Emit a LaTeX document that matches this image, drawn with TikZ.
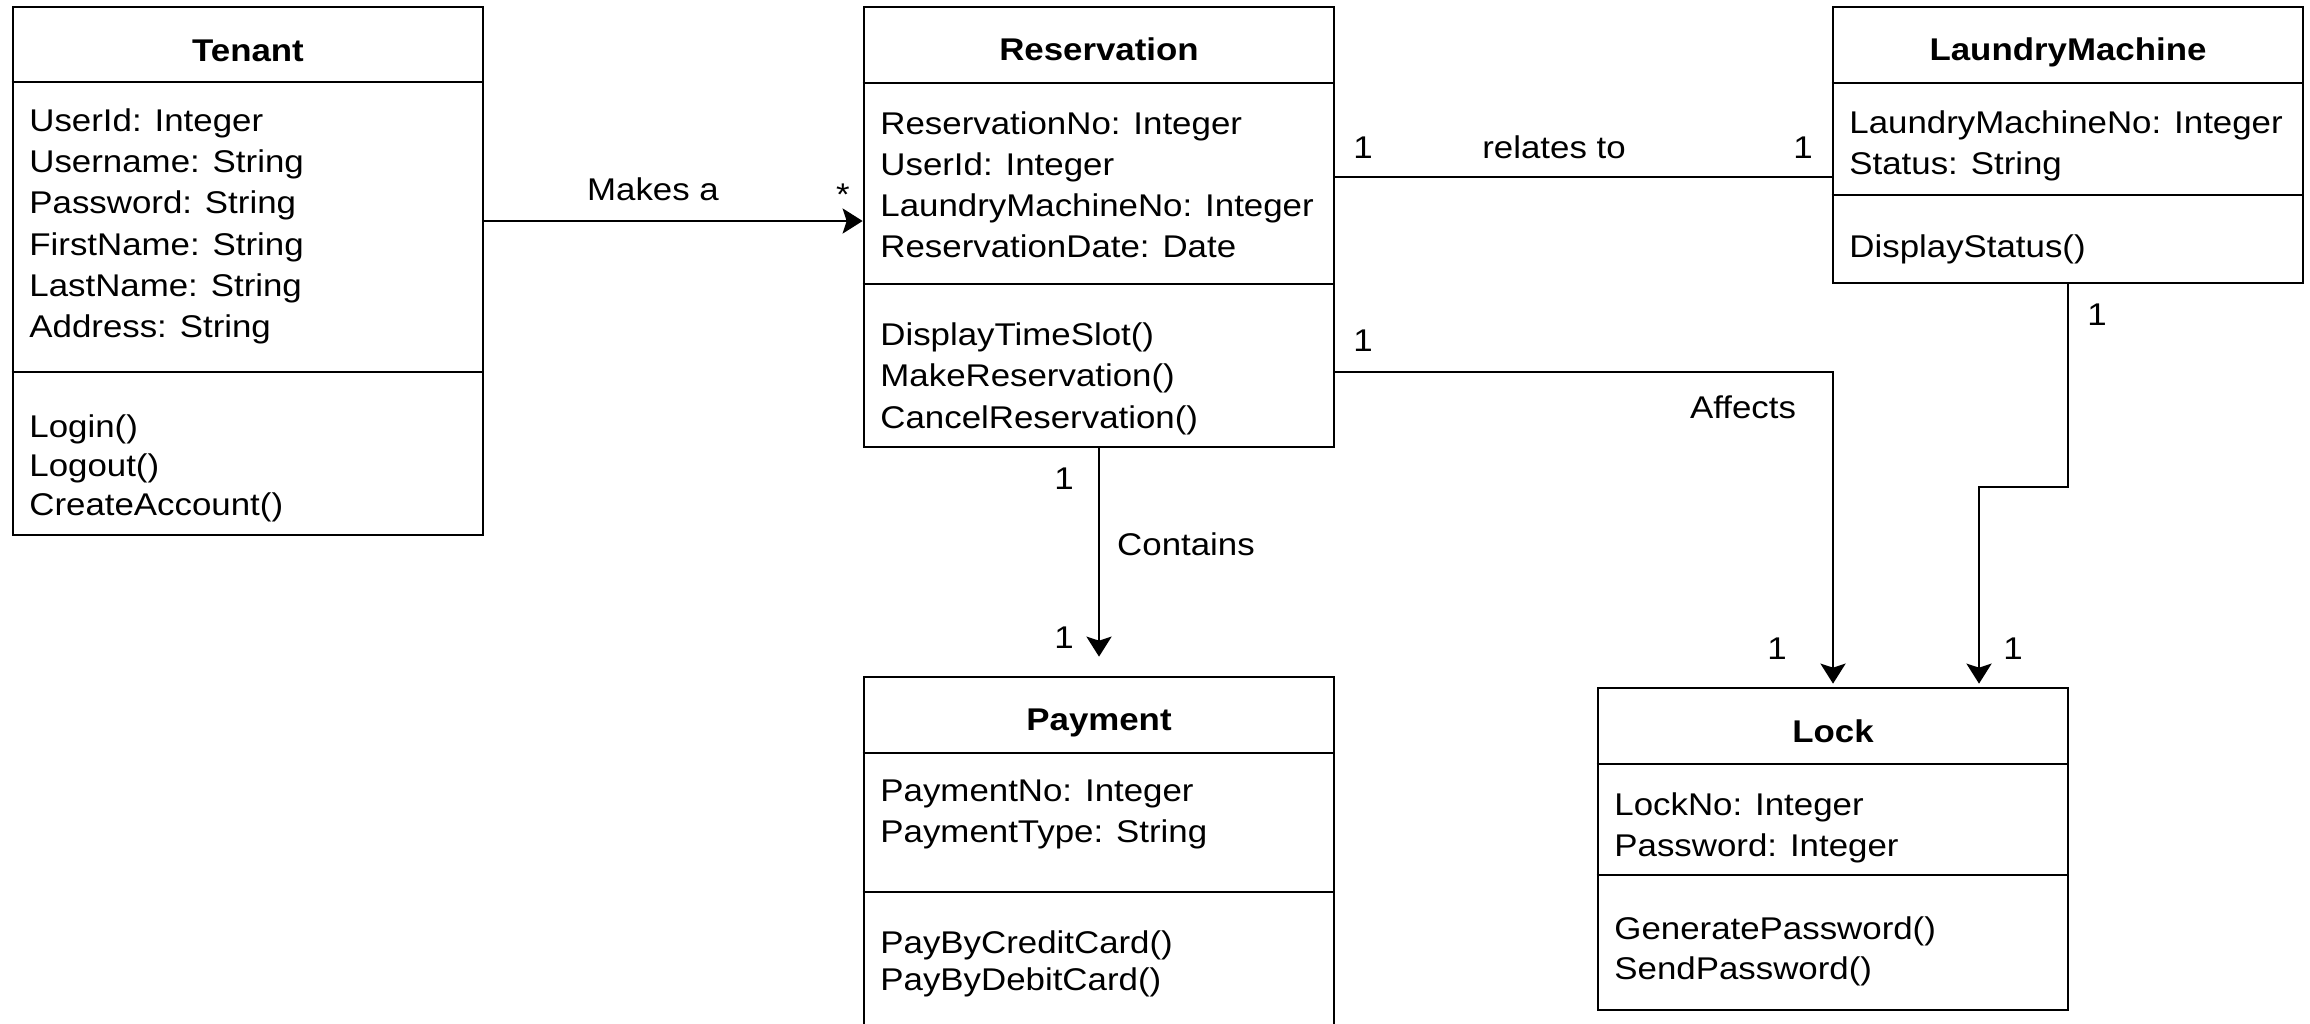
\documentclass[tikz,border=0pt]{standalone}
\usepackage{fontspec}
\setmainfont{Liberation Sans}[FakeStretch=1.11]
\usetikzlibrary{arrows.meta,fit,calc}
\begin{document}
\begin{tikzpicture}[x=0.5pt,y=-0.5pt,
  font=\fontsize{15.7pt}{20pt}\selectfont,
  classbox/.style={draw, line width=1.35pt, inner sep=0pt},
  sep/.style={line width=1.35pt},
  title/.style={anchor=base, inner sep=0pt, font=\fontsize{15.7pt}{20pt}\selectfont\bfseries},
  member/.style={anchor=base west, inner sep=0pt},
  mult/.style={anchor=base, inner sep=0pt},
  assoc/.style={line width=1.3pt},
  navig/.style={assoc, -{Stealth[length=10pt,width=12.5pt,inset=2pt]}},
]
\path[use as bounding box, fill=white] (0,0) rectangle (2310,1023);

% ---------- Tenant ----------
\node[classbox, fit={(13,7)(483,535)}] (tenant) {};
\draw[sep] (tenant.west |- 0,82) -- (tenant.east |- 0,82);
\draw[sep] (tenant.west |- 0,372) -- (tenant.east |- 0,372);
\node[title] (tenantT) at (248,61) {Tenant};
\node[member] (ta1) at (29,131) {UserId: Integer};
\node[member] (ta2) at (29,172) {Username: String};
\node[member] (ta3) at (29,213) {Password: String};
\node[member] (ta4) at (29,255) {FirstName: String};
\node[member] (ta5) at (29,296) {LastName: String};
\node[member] (ta6) at (29,337) {Address: String};
\node[member] (tm1) at (29,437) {Login()};
\node[member] (tm2) at (29,476) {Logout()};
\node[member] (tm3) at (29,515) {CreateAccount()};

% ---------- Reservation ----------
\node[classbox, fit={(864,7)(1334,447)}] (res) {};
\draw[sep] (res.west |- 0,83) -- (res.east |- 0,83);
\draw[sep] (res.west |- 0,284) -- (res.east |- 0,284);
\node[title] (resT) at (1099,60) {Reservation};
\node[member] (ra1) at (880,134) {ReservationNo: Integer};
\node[member] (ra2) at (880,175) {UserId: Integer};
\node[member] (ra3) at (880,216) {LaundryMachineNo: Integer};
\node[member] (ra4) at (880,257) {ReservationDate: Date};
\node[member] (rm1) at (880,345) {DisplayTimeSlot()};
\node[member] (rm2) at (880,386) {MakeReservation()};
\node[member] (rm3) at (880,428) {CancelReservation()};

% ---------- LaundryMachine ----------
\node[classbox, fit={(1833,7)(2303,283)}] (lm) {};
\draw[sep] (lm.west |- 0,83) -- (lm.east |- 0,83);
\draw[sep] (lm.west |- 0,195) -- (lm.east |- 0,195);
\node[title] (lmT) at (2068,60) {LaundryMachine};
\node[member] (la1) at (1849,133) {LaundryMachineNo: Integer};
\node[member] (la2) at (1849,174) {Status: String};
\node[member] (lm1) at (1849,257) {DisplayStatus()};

% ---------- Payment (runs past the lower edge) ----------
\node[classbox, fit={(864,677)(1334,1045)}] (pay) {};
\draw[sep] (pay.west |- 0,753) -- (pay.east |- 0,753);
\draw[sep] (pay.west |- 0,892) -- (pay.east |- 0,892);
\node[title] (payT) at (1099,730) {Payment};
\node[member] (pa1) at (880,801) {PaymentNo: Integer};
\node[member] (pa2) at (880,842) {PaymentType: String};
\node[member] (pm1) at (880,953) {PayByCreditCard()};
\node[member] (pm2) at (880,990) {PayByDebitCard()};

% ---------- Lock ----------
\node[classbox, fit={(1598,688)(2068,1010)}] (lock) {};
\draw[sep] (lock.west |- 0,764) -- (lock.east |- 0,764);
\draw[sep] (lock.west |- 0,875) -- (lock.east |- 0,875);
\node[title] (lockT) at (1833,742) {Lock};
\node[member] (ka1) at (1614,815) {LockNo: Integer};
\node[member] (ka2) at (1614,856) {Password: Integer};
\node[member] (km1) at (1614,939) {GeneratePassword()};
\node[member] (km2) at (1614,979) {SendPassword()};

% ---------- associations ----------
\draw[navig] (tenant.east |- 0,221) -- (res.west |- 0,221);
\node[mult] (makesL) at (653,200) {Makes a};
\node[mult] (makesM) at (843,205) {*};

\draw[assoc] (res.east |- 0,177) -- (lm.west |- 0,177);
\node[mult] (relM1) at (1363,158) {1};
\node[mult] (relL) at (1554,158) {relates to};
\node[mult] (relM2) at (1803,158) {1};

\draw[navig, shorten >=1.5pt] (res.east |- 0,372) -| (lock.north);
\node[mult] (affM1) at (1363,351) {1};
\node[mult] (affL) at (1743,418) {Affects};
\node[mult] (affM2) at (1777,659) {1};

\draw[navig, shorten >=1.5pt] (lm.south) -- (lm.south |- 0,487) -| (lock.north -| 1979,0);
\node[mult] (lmM1) at (2097,325) {1};
\node[mult] (lmM2) at (2013,659) {1};

\draw[navig, shorten >=9.5pt] (res.south) -- (pay.north);
\node[mult] (conM1) at (1064,489) {1};
\node[mult] (conL) at (1186,555) {Contains};
\node[mult] (conM2) at (1064,648) {1};
\end{tikzpicture}
\end{document}
